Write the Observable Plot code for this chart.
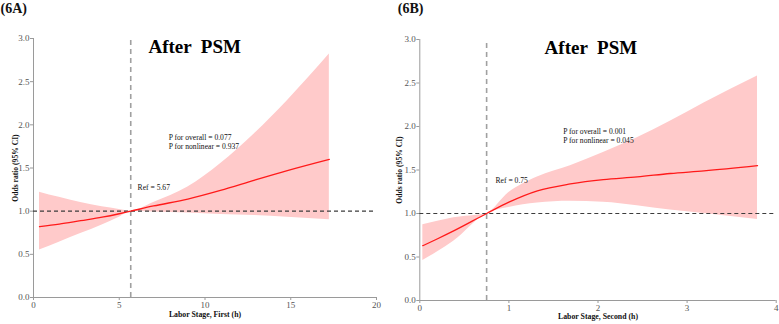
<!DOCTYPE html>
<html>
<head>
<meta charset="utf-8">
<script src="https://cdn.jsdelivr.net/npm/d3@7"></script>
<script src="https://cdn.jsdelivr.net/npm/@observablehq/plot@0.6"></script>
<style>
  html, body { margin: 0; padding: 0; background: #fff; }
  #wrap { display: flex; width: 779px; height: 324px; }
  svg, svg text { font-family: "Liberation Serif", "DejaVu Serif", serif !important; }
</style>
</head>
<body>
<div id="wrap"></div>
<script>
// Restricted cubic spline: odds ratio vs. first stage of labor (h), ref = 5.67
const firstX     = [0.35, 1.5, 2.75, 4.0, 5.0, 5.67, 7.0, 9.0, 10.9, 12.9, 14.8, 17.25];
const firstOR    = [0.82, 0.85, 0.89, 0.93, 0.97, 1.00, 1.06, 1.14, 1.24, 1.36, 1.47, 1.60];
const firstLower = [0.55, 0.64, 0.74, 0.84, 0.93, 1.00, 0.99, 0.98, 0.96, 0.95, 0.93, 0.90];
const firstUpper = [1.22, 1.16, 1.10, 1.05, 1.02, 1.00, 1.10, 1.28, 1.55, 1.90, 2.28, 2.82];

// Restricted cubic spline: odds ratio vs. second stage of labor (h), ref = 0.75
const secondX     = [0.034, 0.2, 0.38, 0.75, 1.0, 1.32, 1.69, 2.06, 2.44, 2.81, 3.19, 3.79];
const secondOR    = [0.63, 0.71, 0.80, 1.00, 1.13, 1.26, 1.34, 1.39, 1.42, 1.46, 1.49, 1.55];
const secondLower = [0.46, 0.56, 0.68, 1.00, 1.07, 1.12, 1.14, 1.13, 1.09, 1.04, 1.00, 0.93];
const secondUpper = [0.87, 0.91, 0.95, 1.00, 1.24, 1.42, 1.55, 1.70, 1.87, 2.06, 2.27, 2.58];

const yTicks = [0, 0.5, 1.0, 1.5, 2.0, 2.5, 3.0];
const firstTicks = [0, 5, 10, 15, 20];
const secondTicks = [0, 1, 2, 3, 4];

const SERIF = "Liberation Serif";

function panel(o) {
  const rows = o.x.map((v, i) => ({x: v, or: o.or[i], lo: o.lo[i], hi: o.hi[i]}));
  return Plot.plot({
    width: o.width,
    height: 324,
    marginLeft: o.ml,
    marginRight: o.mr,
    marginTop: o.mt,
    marginBottom: o.mb,
    style: {fontFamily: SERIF, background: "#fff", overflow: "visible"},
    x: {domain: o.xDomain},
    y: {domain: [0, 3]},
    marks: [
      Plot.areaY(rows, {x: "x", y1: "lo", y2: "hi", fill: "#ffcaca", curve: "monotone-x"}),
      // axis lines
      Plot.ruleY([0], {x1: o.xDomain[0], x2: o.xDomain[1], stroke: "#9a9a9a", strokeWidth: 1}),
      Plot.ruleX([o.xDomain[0]], {y1: 0, y2: 3, stroke: "#9a9a9a", strokeWidth: 1}),
      Plot.axisX({ticks: o.xTicks, tickSize: 3, tickPadding: 1, fontSize: 9, fill: "#555", stroke: "#9a9a9a", label: null, tickFormat: d3.format("d")}),
      Plot.axisY({ticks: yTicks, tickSize: 3, tickPadding: 1, fontSize: 9, fill: "#555", stroke: "#9a9a9a", label: null, tickFormat: d3.format(".1f")}),
      // reference lines
      Plot.ruleX([o.ref], {y1: 0, y2: 3, stroke: "#a0a0a0", strokeWidth: 1.6, strokeDasharray: "5,4"}),
      Plot.ruleY([1], {x1: o.xDomain[0], x2: o.xDomain[1], stroke: "#3c3c3c", strokeWidth: 1.2, strokeDasharray: "4,3"}),
      Plot.line(rows, {x: "x", y: "or", stroke: "#ff1a1a", strokeWidth: 1.3, curve: "monotone-x"}),
      // annotations
      Plot.text([o.title], {x: o.titleX, y: 2.83, text: d => d, fontSize: 19, fontWeight: "bold", textAnchor: "middle", lineAnchor: "bottom", fill: "#000", fontFamily: SERIF}),
      Plot.text([o.pText], {x: o.pX, y: o.pY, text: d => d, fontSize: 7.6, textAnchor: "start", lineAnchor: "bottom", fill: "#111", lineHeight: 1.25, fontFamily: SERIF}),
      Plot.text([o.refText], {x: o.refX, y: o.refY, text: d => d, fontSize: 7.6, textAnchor: "start", lineAnchor: "bottom", fill: "#111", fontFamily: SERIF}),
      Plot.text([o.panel], {frameAnchor: "top-left", dx: o.panelDx, dy: -o.mt + 3, text: d => d, fontSize: 14, fontWeight: "bold", textAnchor: "start", lineAnchor: "top", fill: "#111", letterSpacing: 1, fontFamily: SERIF}),
      Plot.text(["Odds ratio (95% CI)"], {frameAnchor: "left", dx: o.yLabDx, text: d => d, rotate: -90, fontSize: 7.6, fontWeight: "bold", textAnchor: "middle", fill: "#111", fontFamily: SERIF}),
      Plot.text([o.xLabel], {frameAnchor: "bottom", dy: o.xLabDy, text: d => d, fontSize: 7.8, fontWeight: "bold", textAnchor: "middle", lineAnchor: "middle", fill: "#111", fontFamily: SERIF})
    ]
  });
}

const wrap = document.getElementById("wrap");

wrap.append(panel({
  x: firstX, or: firstOR, lo: firstLower, hi: firstUpper,
  width: 390, ml: 33, mr: 14, mt: 38, mb: 27,
  xDomain: [0, 20], xTicks: firstTicks, ref: 5.67,
  title: "After  PSM", titleX: 9.4,
  pText: "P for overall = 0.077\nP for nonlinear = 0.937", pX: 7.88, pY: 1.72,
  refText: "Ref = 5.67", refX: 6.07, refY: 1.24,
  panel: "(6A)", panelDx: -33,
  yLabDx: -18, xLabel: "Labor Stage, First (h)", xLabDy: 17
}));

wrap.append(panel({
  x: secondX, or: secondOR, lo: secondLower, hi: secondUpper,
  width: 389, ml: 29.3, mr: 3.3, mt: 39, mb: 24,
  xDomain: [0, 4], xTicks: secondTicks, ref: 0.75,
  title: "After  PSM", titleX: 1.92,
  pText: "P for overall = 0.001\nP for nonlinear = 0.045", pX: 1.61, pY: 1.81,
  refText: "Ref = 0.75", refX: 0.85, refY: 1.35,
  panel: "(6B)", panelDx: -22,
  yLabDx: -20, xLabel: "Labor Stage, Second (h)", xLabDy: 16
}));
</script>
</body>
</html>
